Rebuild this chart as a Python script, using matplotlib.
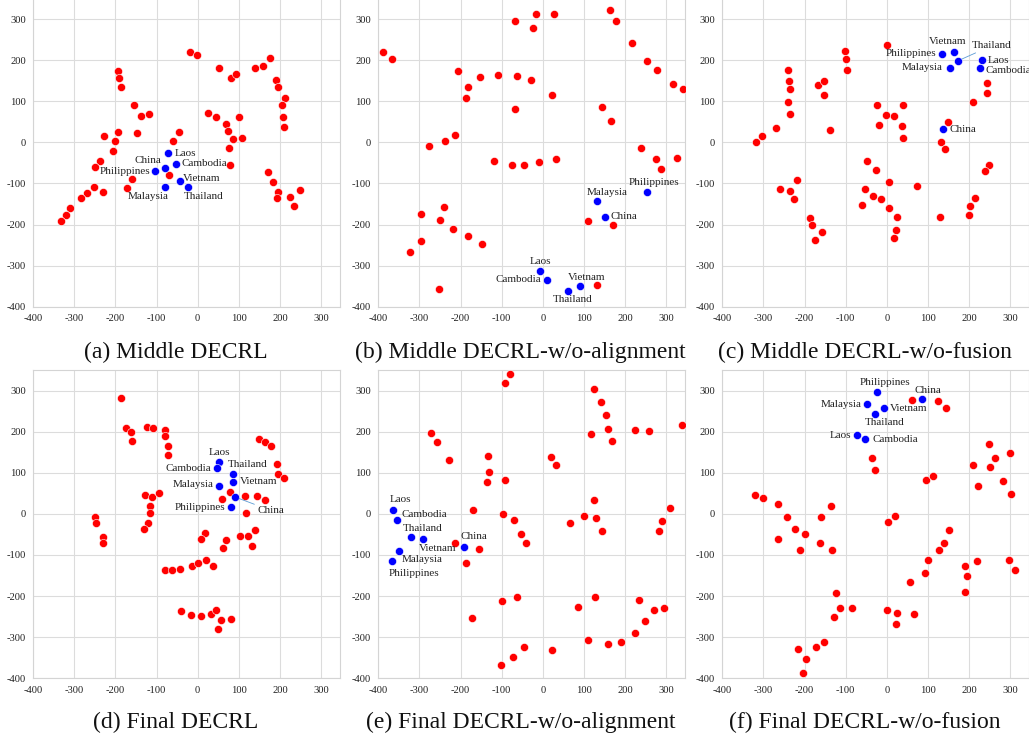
import matplotlib
matplotlib.use('Agg')
import matplotlib.pyplot as plt

plt.rcParams['font.family'] = ['Liberation Serif', 'DejaVu Serif']
plt.rcParams['axes.unicode_minus'] = False

countries = ['China', 'Laos', 'Cambodia', 'Vietnam', 'Thailand', 'Malaysia', 'Philippines']
titles = ['(a) Middle DECRL', '(b) Middle DECRL-w/o-alignment', '(c) Middle DECRL-w/o-fusion',
          '(d) Final DECRL', '(e) Final DECRL-w/o-alignment', '(f) Final DECRL-w/o-fusion']
ticks = [-400, -300, -200, -100, 0, 100, 200, 300]

# (a) Middle DECRL
a_red_x = [-18, -2, 51, 81, 94, 139, 158, 176, 190, 196, 212, 204, 207, 209, -193, -191, -187, -154, -138, -118,
           -227, -193, -200, -147, -205, -46, -60, 24, 44, 70, 73, 101, 85, 107, 77, 78, -70, -237, -249, -251,
           -231, -268, -284, -309, -321, -333, -171, -159, 171, 183, 195, 192, 224, 233, 249]
a_red_y = [219, 212, 182, 156, 166, 182, 186, 204, 152, 135, 107, 90, 62, 37, 173, 156, 134, 91, 65, 70,
           15, 26, 2, 23, -20, 24, 2, 71, 62, 45, 28, 62, 7, 10, -15, -55, -79, -45, -59, -109,
           -120, -123, -135, -161, -176, -191, -111, -89, -72, -96, -120, -136, -133, -156, -116]
a_blue_x = [-80, -71, -52, -43, -23, -80, -104]
a_blue_y = [-63, -27, -52, -95, -108, -109, -71]

# (b) Middle DECRL-w/o-alignment
b_red_x = [-388, -367, -68, -17, 26, -24, 163, 178, 216, 252, 277, 316, 341, -206, -183, -186, -152, -110, -62, -29,
           21, -67, 144, 166, -213, -237, -277, -118, -75, -47, -9, 31, 238, 274, 286, 325, -296, -240, -251, -218,
           -296, -322, -183, -148, -252, 109, 170, 131]
b_red_y = [219, 202, 296, 312, 312, 278, 323, 296, 241, 197, 175, 143, 129, 174, 135, 108, 160, 163, 162, 152,
           116, 81, 85, 53, 18, 3, -10, -46, -54, -54, -47, -40, -15, -41, -66, -38, -174, -157, -190, -210,
           -240, -267, -227, -247, -358, -191, -201, -348]
b_blue_x = [150, -6, 11, 89, 61, 132, 252]
b_blue_y = [-181, -312, -335, -350, -362, -144, -122]

# (c) Middle DECRL-w/o-fusion
c_red_x = [0, -102, -100, -98, -240, -237, -236, -241, -236, -168, -152, -154, -138, -270, -304, -317, -23, 40, -2, 18,
           -19, 37, 40, 148, 131, 141, 209, 244, 243, 249, 239, 215, 202, 199, 128, -49, -26, 4, 72, -53,
           -34, -14, -60, 4, 24, 21, 17, -218, -259, -235, -225, -188, -181, -158, -174]
c_red_y = [237, 221, 202, 175, 177, 149, 129, 98, 69, 139, 150, 115, 31, 36, 16, 0, 91, 91, 67, 65,
           42, 40, 10, 49, 0, -17, 98, 144, 119, -54, -71, -135, -156, -176, -182, -45, -67, -96, -107, -114,
           -130, -139, -153, -160, -182, -214, -233, -92, -113, -118, -137, -183, -200, -219, -238]
c_blue_x = [136, 230, 226, 164, 172, 153, 133]
c_blue_y = [33, 200, 180, 220, 198, 182, 216]

# (d) Final DECRL
d_red_x = [-186, -175, -161, -159, -124, -108, -80, -80, -73, -72, 148, 163, 179, 192, 196, 209, -250, -246, -231, -230,
           -129, -111, -93, -115, -116, -121, -130, 60, 78, 116, 143, 164, 117, 18, 9, 70, 61, 102, 122, 140,
           133, -80, -62, -44, -14, 2, 20, 38, -41, -16, 8, 32, 44, 56, 82, 49]
d_red_y = [282, 209, 200, 178, 211, 209, 205, 189, 165, 143, 181, 174, 165, 122, 98, 87, -8, -23, -57, -71,
           47, 40, 52, 19, 2, -22, -37, 36, 53, 44, 44, 35, 1, -47, -61, -63, -84, -55, -54, -40,
           -77, -137, -137, -135, -126, -120, -113, -126, -237, -246, -249, -243, -235, -259, -256, -280]
d_blue_x = [91, 52, 48, 85, 86, 52, 82]
d_blue_y = [41, 126, 111, 78, 98, 69, 17]

# (e) Final DECRL-w/o-alignment
e_red_x = [-80, -92, 124, 140, 153, 159, 167, 118, 224, 258, 338, -273, -258, -229, -134, -130, -135, -92, 19, 32,
           125, 99, 128, 144, 67, -96, -71, -53, -41, -170, -214, -155, -188, 309, 289, 282, -172, -99, -63, 86,
           127, 234, 247, 270, 295, 224, 109, 159, 190, 22, -45, -72, -103]
e_red_y = [341, 318, 305, 273, 241, 207, 177, 195, 203, 202, 217, 198, 175, 132, 140, 102, 77, 83, 139, 118,
           35, -4, -10, -42, -21, 0, -15, -50, -72, 9, -70, -85, -120, 15, -18, -41, -253, -211, -202, -226,
           -203, -210, -260, -233, -229, -289, -308, -316, -311, -331, -325, -347, -368]
e_blue_x = [-191, -363, -354, -292, -320, -350, -366]
e_blue_y = [-80, 9, -14, -61, -56, -90, -115]

# (f) Final DECRL-w/o-fusion
f_red_x = [62, 125, 143, -35, -28, 248, 263, 250, 300, 210, 221, 281, 301, 95, 112, -321, -300, -265, -242, -223,
           -198, -265, -210, -161, -136, -163, -134, 2, 19, 152, 139, 126, 99, 92, 55, 190, 194, 219, 190, 297,
           312, -124, -113, -84, -128, 1, 25, 22, 67, -154, -173, -216, -197, -203]
f_red_y = [277, 274, 257, 135, 106, 169, 136, 115, 149, 120, 69, 80, 49, 82, 93, 47, 39, 24, -7, -37,
           -49, -62, -89, -7, 20, -72, -89, -20, -5, -39, -70, -89, -112, -145, -165, -128, -151, -115, -191, -111,
           -136, -193, -229, -228, -250, -235, -242, -269, -243, -311, -323, -329, -354, -388]
f_blue_x = [85, -73, -52, -6, -30, -48, -23]
f_blue_y = [280, 191, 181, 257, 244, 267, 296]

red_x = [a_red_x, b_red_x, c_red_x, d_red_x, e_red_x, f_red_x]
red_y = [a_red_y, b_red_y, c_red_y, d_red_y, e_red_y, f_red_y]
blue_x = [a_blue_x, b_blue_x, c_blue_x, d_blue_x, e_blue_x, f_blue_x]
blue_y = [a_blue_y, b_blue_y, c_blue_y, d_blue_y, e_blue_y, f_blue_y]

# label placement per panel: (dx px, dy px, ha, leader line)
label_style = [
    [(-3.3, 7.7, 'right', 0), (6, 0, 'left', 0), (5, 0, 'left', 0), (3.3, 3.3, 'left', 0),
     (15.7, -10, 'center', 0), (-16.7, -9.7, 'center', 0), (-4.3, 0, 'right', 0)],
    [(6, 0, 'left', 0), (0, 9.3, 'center', 0), (-6, 0, 'right', 0), (7, 8.7, 'center', 0),
     (4.7, -8, 'center', 0), (10, 9, 'center', 0), (7, 10, 'center', 0)],
    [(6.3, -1, 'left', 0), (5.7, 0, 'left', 0), (5.7, -1.7, 'left', 0), (-7, 10.3, 'center', 0),
     (14.3, 15.3, 'left', 1), (-7.3, 0, 'right', 0), (-5.7, 0, 'right', 0)],
    [(22, -13.3, 'left', 1), (0, 10, 'center', 0), (-6.3, 0, 'right', 0), (7, 0, 'left', 0),
     (15, 9.3, 'center', 0), (-5.7, 1, 'right', 0), (-6, -1, 'right', 0)],
    [(9.7, 10.7, 'center', 0), (6.7, 10.3, 'center', 0), (4.3, 5, 'left', 0), (15, -9.7, 'center', 0),
     (11.3, 8, 'center', 0), (3, -8.3, 'left', 0), (-3.7, -12, 'left', 0)],
    [(6.3, 8.7, 'center', 0), (-5.7, 0, 'right', 0), (7, 0, 'left', 0), (5.7, 0, 'left', 0),
     (9.7, -9.3, 'center', 0), (-6, 0, 'right', 0), (7.3, 9.3, 'center', 0)],
]

fig = plt.figure(figsize=(10.29, 7.38), dpi=100)
lefts = [0.0321, 0.3676, 0.7019]
bottoms = [0.5844, 0.0809]
w, h = 0.2980, 0.4177
title_y = [1 - 352 / 738, 1 - 722 / 738]

for i in range(6):
    row, col = divmod(i, 3)
    ax = fig.add_axes([lefts[col], bottoms[row], w, h])
    ax.set_xlim(-400, 345)
    ax.set_ylim(-400, 350)
    ax.set_xticks(ticks)
    ax.set_yticks(ticks)
    ax.grid(True, color='#dcdcdc', lw=0.8)
    ax.set_axisbelow(True)
    for s in ax.spines.values():
        s.set_color('#d4d4d4')
        s.set_linewidth(0.8)
    ax.tick_params(length=0, labelsize=7.6, colors='#222222')
    ax.tick_params(axis='x', pad=5.5)
    ax.tick_params(axis='y', pad=5)

    ax.scatter(red_x[i], red_y[i], s=34, c='#ff0000', edgecolors='white', linewidths=0.4, zorder=3)
    ax.scatter(blue_x[i], blue_y[i], s=34, c='#0000ff', edgecolors='white', linewidths=0.4, zorder=4)

    for j, name in enumerate(countries):
        dx, dy, ha, leader = label_style[i][j]
        arrow = None
        if leader:
            arrow = dict(arrowstyle='-', color='#5b9bd5', lw=0.6, shrinkA=0, shrinkB=3)
        ax.annotate(name, (blue_x[i][j], blue_y[i][j]), xytext=(dx * 0.72, dy * 0.72),
                    textcoords='offset points', ha=ha, va='center', fontsize=8,
                    color='#222222', arrowprops=arrow, zorder=5)

    cx = lefts[col] + w / 2 - 11 / 1029
    fig.text(cx, title_y[row], titles[i], ha='center', va='center', fontsize=17, color='#111111')

fig.savefig('out.png', dpi=100)
